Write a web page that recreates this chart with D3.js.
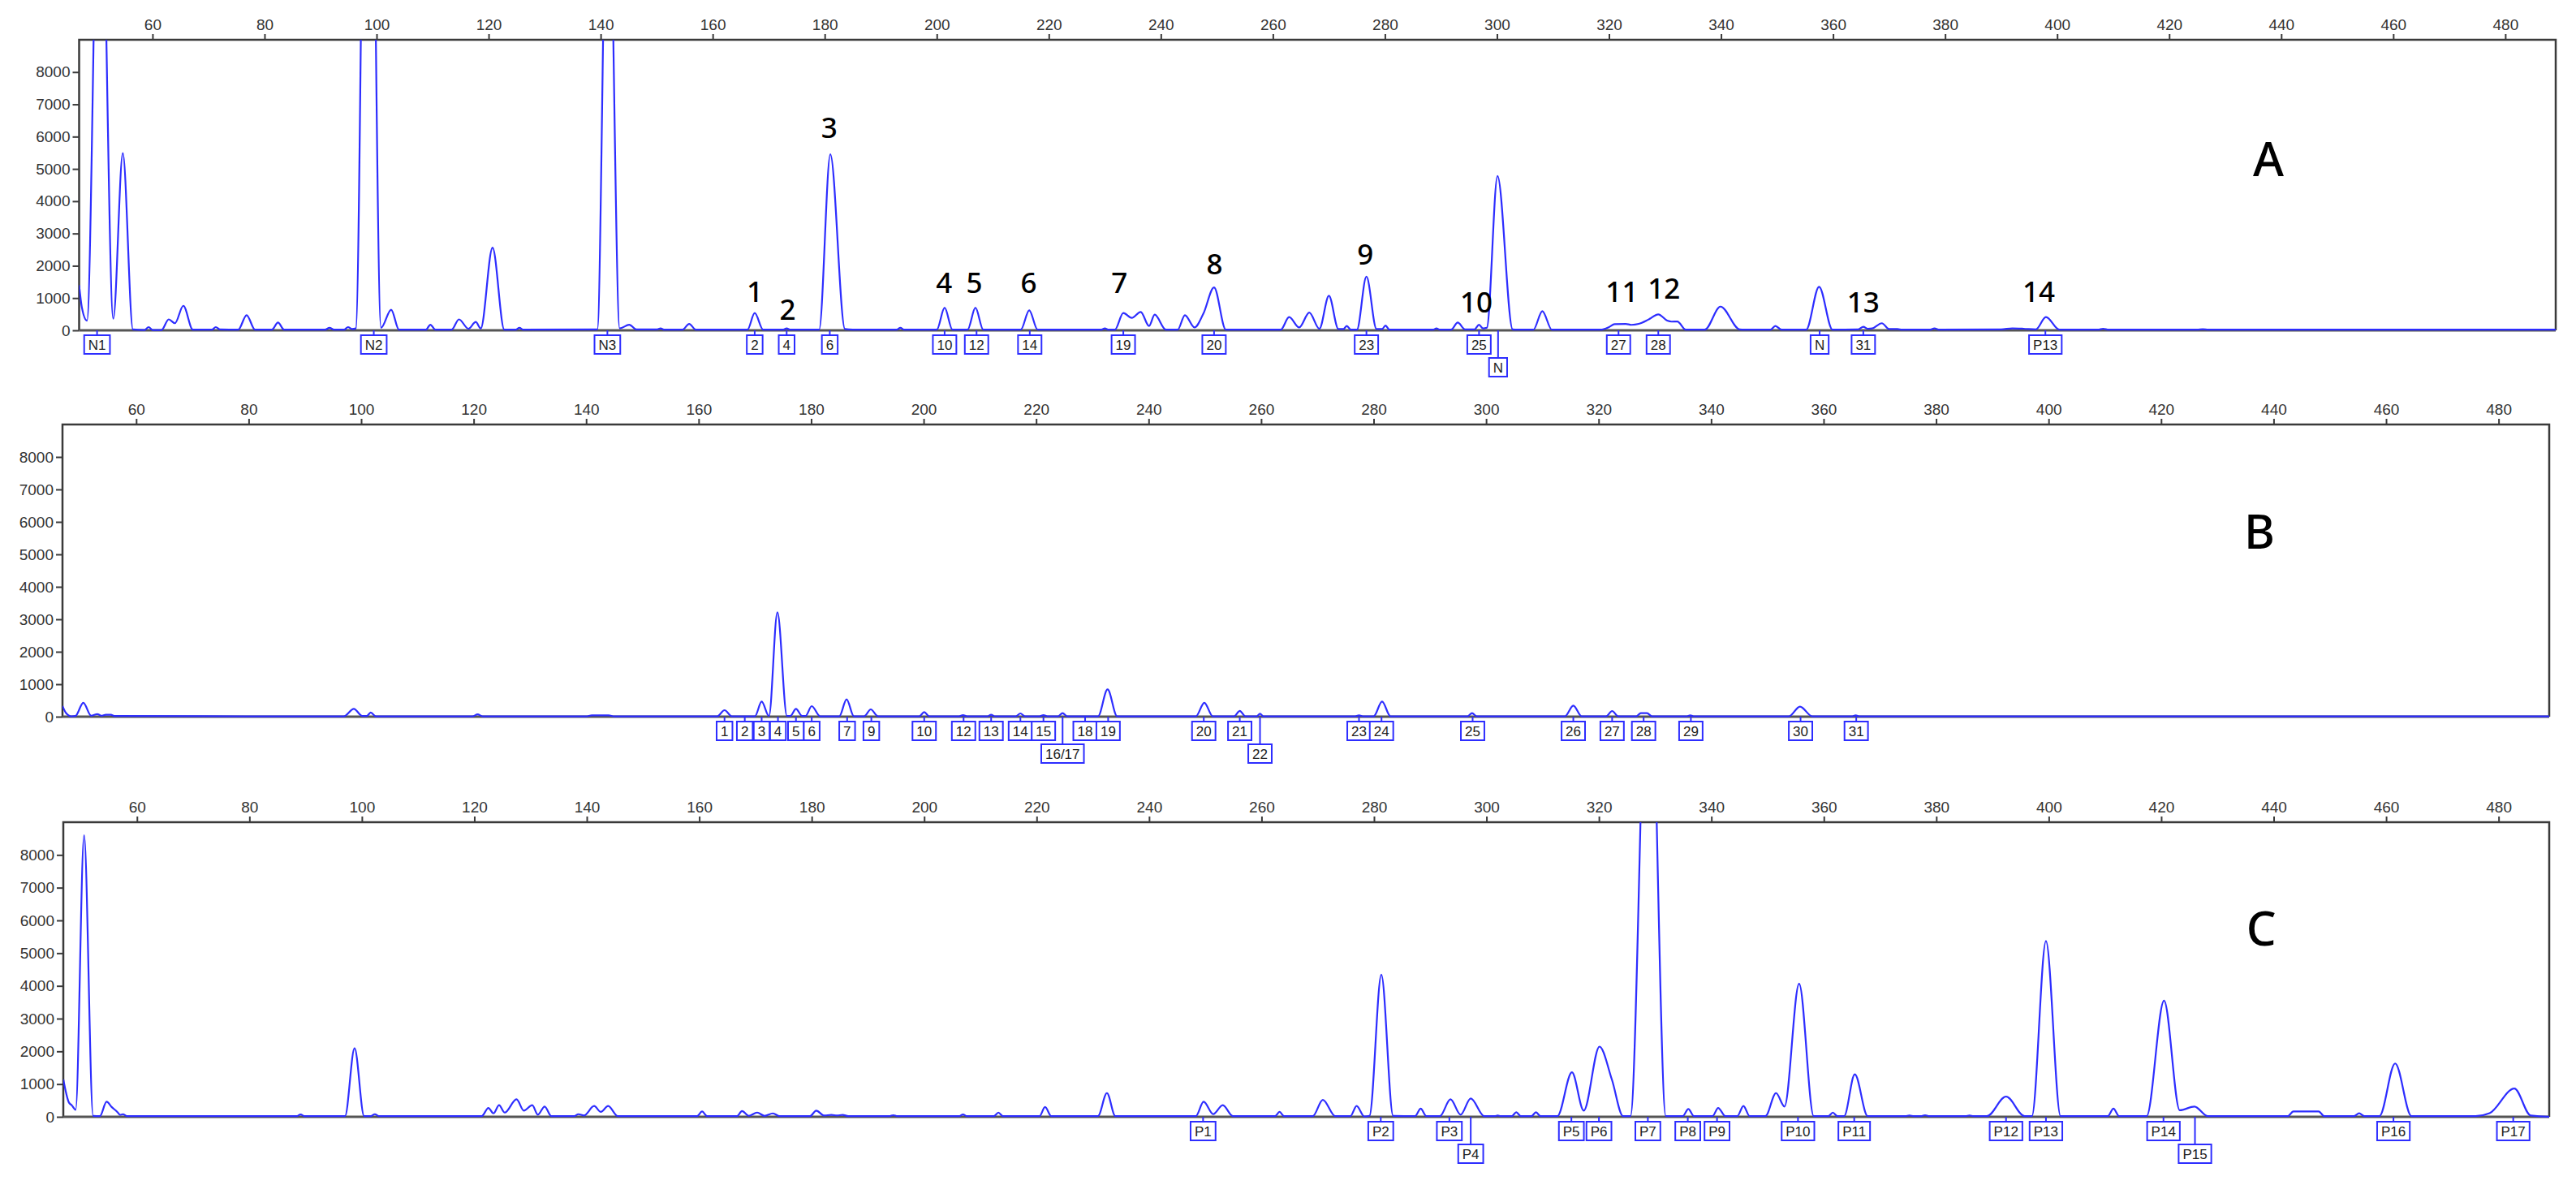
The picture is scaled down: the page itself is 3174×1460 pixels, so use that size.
<!DOCTYPE html>
<html><head><meta charset="utf-8">
<script src="https://cdn.jsdelivr.net/npm/d3@7"></script>
<style>body{margin:0;background:#fff}svg{display:block}</style>
</head><body>
<svg id="chart" width="3174" height="1460"></svg>
<script>
// ---------- tick labels ----------
const xTicks = [60,80,100,120,140,160,180,200,220,240,260,280,300,320,340,360,380,400,420,440,460,480];
const yTicks = [0,1000,2000,3000,4000,5000,6000,7000,8000];
const sizeDomain = [46.9, 489];
const heightDomain = [0, 9000];

// ---------- traces: [size (bp), RFU] ----------
const traceA = [[46.9,1400],[47.4,700],[48.3,300],[50.6,17000],[53.0,360],[54.7,5490],[56.5,30],[58.6,10],[59.3,100],[60.0,10],[61.6,10],[62.9,340],[64.0,220],[65.5,760],[67.2,20],[70.6,20],[71.3,100],[72.0,30],[75.3,20],[76.8,470],[78.3,20],[81.3,20],[82.4,240],[83.5,20],[90.8,20],[91.6,80],[92.4,20],[94.2,20],[94.9,100],[95.6,40],[96.3,60],[98.5,25000],[100.8,80],[102.6,640],[104.0,20],[108.8,20],[109.6,175],[110.5,20],[113.4,20],[114.7,340],[116.4,50],[117.7,260],[118.6,60],[120.7,2560],[122.8,20],[124.8,20],[125.5,80],[126.2,20],[139.4,30],[141.3,16000],[143.4,60],[145.1,175],[146.4,30],[150.0,30],[150.7,60],[151.4,20],[154.6,20],[155.8,200],[157.0,20],[166.2,20],[167.5,535],[169.0,20],[172.5,20],[173.2,60],[173.9,20],[179.0,20],[181.0,5450],[183.6,40],[185.0,20],[192.8,20],[193.5,80],[194.2,20],[200.0,20],[201.4,700],[202.8,20],[205.5,20],[206.9,700],[208.3,20],[215.0,20],[216.5,620],[218.0,20],[229.3,20],[230.0,60],[230.7,20],[231.8,20],[233.3,535],[234.8,385],[236.4,570],[237.9,135],[238.9,485],[240.9,20],[243.0,20],[244.3,470],[246.0,90],[247.6,520],[249.5,1330],[251.6,20],[261.4,20],[262.9,410],[264.7,90],[266.5,550],[268.3,50],[270.0,1070],[271.7,40],[272.6,40],[273.2,135],[273.9,20],[275.0,20],[276.7,1665],[278.5,40],[279.5,40],[280.1,150],[280.8,20],[288.6,20],[289.2,60],[289.8,20],[291.8,20],[293.0,240],[294.3,30],[296.0,30],[296.8,175],[297.5,60],[298.2,80],[300.1,4780],[302.8,30],[303.6,20],[306.5,20],[308.1,595],[309.8,20],[318.5,20],[320.0,100],[321.0,190],[323.0,200],[324.0,170],[325.3,200],[327.0,330],[328.8,495],[330.4,300],[331.2,270],[332.2,275],[333.7,20],[337.1,20],[339.9,735],[343.3,30],[344.2,20],[348.8,20],[349.7,135],[350.8,20],[355.2,20],[357.5,1350],[359.9,20],[364.5,30],[365.4,110],[366.2,50],[367.0,60],[368.7,220],[370.0,40],[371.5,40],[372.3,20],[377.2,20],[378.1,60],[379.0,20],[390.0,30],[392.0,60],[394.0,50],[396.2,30],[398.0,410],[400.4,20],[402.0,20],[407.3,20],[408.2,50],[409.2,20],[425.0,20],[426.0,35],[427.0,20],[489.0,20]];

const traceB = [[46.9,330],[47.5,120],[48.5,10],[49.2,20],[50.6,430],[52.0,30],[53.1,80],[53.8,30],[54.6,60],[55.5,60],[56.2,20],[96.9,10],[98.7,240],[100.2,20],[101.0,20],[101.7,130],[102.6,10],[119.8,10],[120.7,70],[121.6,10],[140.0,10],[141.0,40],[144.0,40],[145.0,10],[163.3,10],[164.6,200],[165.9,10],[170.0,10],[171.2,465],[172.5,20],[174.0,3217],[175.7,20],[176.3,20],[177.3,240],[178.4,20],[179.0,20],[180.1,325],[181.6,10],[185.0,10],[186.3,533],[187.6,10],[189.4,10],[190.6,225],[191.9,10],[199.2,10],[200.1,140],[201.0,10],[206.3,10],[207.0,50],[207.7,10],[211.3,10],[212.0,60],[212.7,10],[216.4,10],[217.2,100],[218.0,10],[220.6,10],[221.3,50],[222.0,10],[223.9,10],[224.7,110],[225.5,10],[231.0,10],[232.7,840],[234.4,10],[248.4,10],[249.9,430],[251.4,10],[255.2,10],[256.2,180],[257.2,10],[259.2,10],[259.8,90],[260.4,10],[276.6,10],[277.4,40],[278.2,10],[280.0,10],[281.5,465],[283.0,10],[296.7,10],[297.5,110],[298.3,10],[314.0,10],[315.5,340],[317.0,10],[321.3,10],[322.4,175],[323.5,10],[326.7,10],[327.5,110],[328.6,110],[329.5,10],[335.6,10],[336.3,40],[337.0,10],[353.8,10],[355.8,310],[358.0,10],[365.0,10],[365.7,40],[366.4,10],[489.0,10]];

const traceC = [[46.9,1140],[47.9,437],[48.4,355],[49.1,215],[50.6,8600],[52.2,30],[53.4,20],[54.6,460],[55.5,300],[56.5,150],[57.0,60],[57.5,80],[58.2,20],[88.4,20],[89.1,70],[89.8,20],[97.0,20],[98.7,2100],[100.4,20],[101.6,20],[102.3,80],[103.0,20],[121.3,20],[122.5,270],[123.4,105],[124.4,355],[125.4,130],[127.5,535],[128.8,190],[130.3,355],[131.3,65],[132.5,315],[133.7,20],[137.8,20],[138.5,80],[139.5,40],[141.3,330],[142.5,150],[143.8,330],[145.5,20],[159.6,20],[160.5,165],[161.4,20],[166.7,20],[167.6,175],[168.8,30],[170.3,130],[171.6,30],[173.1,105],[174.3,20],[179.7,20],[180.8,190],[182.2,40],[183.5,60],[184.5,40],[185.5,60],[186.5,20],[193.8,20],[194.5,50],[195.2,20],[206.2,20],[206.9,70],[207.6,20],[212.4,20],[213.2,130],[214.0,20],[220.5,20],[221.5,300],[222.6,20],[230.9,20],[232.5,725],[234.0,20],[248.3,20],[249.7,460],[251.4,80],[253.1,355],[254.9,20],[262.4,20],[263.2,150],[264.0,20],[269.1,20],[270.9,520],[273.1,20],[275.8,20],[276.9,330],[278.3,10],[279.2,30],[281.3,4340],[283.4,30],[287.3,20],[288.3,250],[289.3,20],[291.7,20],[293.6,535],[295.4,65],[297.2,560],[299.6,20],[301.5,20],[302.0,40],[302.5,20],[304.5,20],[305.3,140],[306.1,20],[308.0,20],[308.8,140],[309.6,20],[312.6,20],[315.2,1360],[317.3,190],[320.1,2145],[322.3,1140],[324.3,20],[325.6,20],[328.9,16000],[331.9,20],[334.9,20],[335.9,240],[336.9,20],[340.2,20],[341.2,270],[342.5,20],[344.6,20],[345.7,330],[346.8,20],[349.6,20],[351.5,725],[353.0,315],[355.6,4070],[358.2,20],[360.8,20],[361.6,130],[362.4,20],[363.6,20],[365.5,1300],[367.8,20],[374.5,20],[375.2,40],[376.0,20],[377.3,20],[378.0,50],[378.7,20],[385.2,20],[385.9,40],[386.6,20],[389.0,20],[392.4,620],[395.7,20],[397.0,20],[399.5,5370],[402.1,20],[410.5,20],[411.5,250],[412.5,20],[417.4,20],[420.5,3550],[423.3,200],[425.9,315],[428.3,20],[442.5,20],[443.5,165],[448.0,165],[449.0,20],[454.3,20],[455.2,107],[456.1,20],[458.8,20],[461.6,1630],[464.5,20],[475.9,20],[478.4,110],[482.8,865],[485.7,40],[488.8,5],[489.0,5]];

// ---------- boxed peak markers: [label, size (bp), row] ----------
const markersA = [["N1",50.1,0],["N2",99.5,0],["N3",141.2,0],["2",167.5,0],["4",173.2,0],["6",180.9,0],["10",201.4,0],["12",207.1,0],["14",216.6,0],["19",233.3,0],["20",249.5,0],["23",276.7,0],["25",296.8,0],["N",300.2,1],["27",321.7,0],["28",328.8,0],["N",357.6,0],["31",365.4,0],["P13",397.9,0]];
const markersB = [["1",164.6,0],["2",168.2,0],["3",171.2,0],["4",174.1,0],["5",177.3,0],["6",180.1,0],["7",186.4,0],["9",190.7,0],["10",200.1,0],["12",207.1,0],["13",212.0,0],["14",217.2,0],["15",221.3,0],["16/17",224.7,1],["18",228.7,0],["19",232.8,0],["20",249.8,0],["21",256.2,0],["22",259.8,1],["23",277.4,0],["24",281.4,0],["25",297.6,0],["26",315.5,0],["27",322.4,0],["28",328.0,0],["29",336.4,0],["30",355.9,0],["31",365.8,0]];
const markersC = [["P1",249.6,0],["P2",281.2,0],["P3",293.4,0],["P4",297.2,1],["P5",315.1,0],["P6",320.0,0],["P7",328.7,0],["P8",335.8,0],["P9",341.0,0],["P10",355.4,0],["P11",365.4,0],["P12",392.4,0],["P13",399.5,0],["P14",420.4,0],["P15",426.0,1],["P16",461.3,0],["P17",482.6,0]];

// ---------- numbered peak annotations (panel A): [text, size, height] ----------
const peakNumbersA = [["1",167.5,1231],["2",173.4,678],["3",180.8,6306],["4",201.3,1508],["5",206.7,1508],["6",216.4,1508],["7",232.6,1508],["8",249.6,2085],["9",276.5,2387],["10",296.3,905],["11",322.3,1231],["12",329.8,1332],["13",365.4,905],["14",396.7,1231]];
const panelNames = ["A","B","C"];
const panelNamePos = [[437.7,5350],[437.5,5750],[437.8,5800]];

// ---------- layout ----------
const panels = [
  {left:97.5, right:3149, top:49,   base:407,  trace:traceA, markers:markersA, numbers:peakNumbersA},
  {left:77,   right:3141, top:523,  base:883,  trace:traceB, markers:markersB, numbers:[]},
  {left:78,   right:3141, top:1013, base:1376, trace:traceC, markers:markersC, numbers:[]}
];

const svg = d3.select("#chart");
const axisColor = "#3a3a3a";
const traceColor = "#2d2dff";
const tickFont = "'Liberation Sans', Arial, sans-serif";

panels.forEach((p, i) => {
  const g = svg.append("g");
  const x = d3.scaleLinear().domain(sizeDomain).range([p.left, p.right]);
  const y = d3.scaleLinear().domain(heightDomain).range([p.base, p.top]);

  const clipId = "clip" + i;
  svg.append("clipPath").attr("id", clipId).append("rect")
    .attr("x", p.left).attr("y", p.top).attr("width", p.right - p.left).attr("height", p.base - p.top + 3);

  // top axis
  const ax = g.append("g").attr("transform", `translate(0,${p.top})`)
    .call(d3.axisTop(x).tickValues(xTicks).tickFormat(d3.format("d")).tickSize(7).tickPadding(5).tickSizeOuter(0));
  ax.select(".domain").remove();
  ax.selectAll(".tick line").attr("stroke", axisColor).attr("stroke-width", 2);
  ax.selectAll(".tick text").attr("font-family", tickFont).attr("font-size", 19).attr("fill", "#333");

  // left axis
  const ay = g.append("g").attr("transform", `translate(${p.left},0)`)
    .call(d3.axisLeft(y).tickValues(yTicks).tickFormat(d3.format("d")).tickSize(8).tickPadding(3).tickSizeOuter(0));
  ay.select(".domain").remove();
  ay.selectAll(".tick line").attr("stroke", axisColor).attr("stroke-width", 2);
  ay.selectAll(".tick text").attr("font-family", tickFont).attr("font-size", 19).attr("fill", "#333");

  // frame: left, top, right and baseline
  g.append("path")
    .attr("d", `M${p.left},${p.base}V${p.top}H${p.right}V${p.base}`)
    .attr("fill", "none").attr("stroke", axisColor).attr("stroke-width", 2.5);
  g.append("line").attr("x1", p.left).attr("x2", p.right).attr("y1", y(0)).attr("y2", y(0))
    .attr("stroke", "#555").attr("stroke-width", 3);

  // trace
  const line = d3.line().x(d => x(d[0])).y(d => y(d[1])).curve(d3.curveMonotoneX);
  g.append("path").datum(p.trace)
    .attr("clip-path", `url(#${clipId})`)
    .attr("d", line).attr("fill", "none").attr("stroke", traceColor)
    .attr("stroke-width", 2.2).attr("stroke-linejoin", "round");

  // boxed markers
  const boxH = 23, gap0 = 6, gap1 = 34;
  const mg = g.append("g");
  p.markers.forEach(m => {
    const cx = x(m[1]);
    const top = y(0) + (m[2] === 1 ? gap1 : gap0);
    mg.append("line").attr("x1", cx).attr("x2", cx).attr("y1", y(0)).attr("y2", top)
      .attr("stroke", traceColor).attr("stroke-width", 2);
    const rect = mg.append("rect").attr("y", top).attr("height", boxH)
      .attr("fill", "#fff").attr("stroke", traceColor).attr("stroke-width", 2);
    const t = mg.append("text").attr("x", cx).attr("y", top + boxH / 2 + 1)
      .attr("text-anchor", "middle").attr("dominant-baseline", "central")
      .attr("font-family", tickFont).attr("font-size", 17).attr("fill", "#222").text(m[0]);
    const w = t.node().getComputedTextLength() + 10;
    rect.attr("x", cx - w / 2).attr("width", w);
  });

  // numbered peak annotations
  p.numbers.forEach(n => {
    g.append("text").attr("x", x(n[1])).attr("y", y(n[2]))
      .attr("text-anchor", "middle").attr("dominant-baseline", "central")
      .attr("font-family", "'Noto Sans', 'Open Sans', sans-serif").attr("font-weight", 500)
      .attr("font-size", 35).attr("fill", "#000").text(n[0]);
  });

  // panel letter
  g.append("text").attr("x", x(panelNamePos[i][0])).attr("y", y(panelNamePos[i][1]))
    .attr("text-anchor", "middle").attr("dominant-baseline", "central")
    .attr("font-family", "'Noto Sans', 'Open Sans', sans-serif").attr("font-weight", 500)
    .attr("font-size", 58).attr("fill", "#000").text(panelNames[i]);
});
</script>
</body></html>
